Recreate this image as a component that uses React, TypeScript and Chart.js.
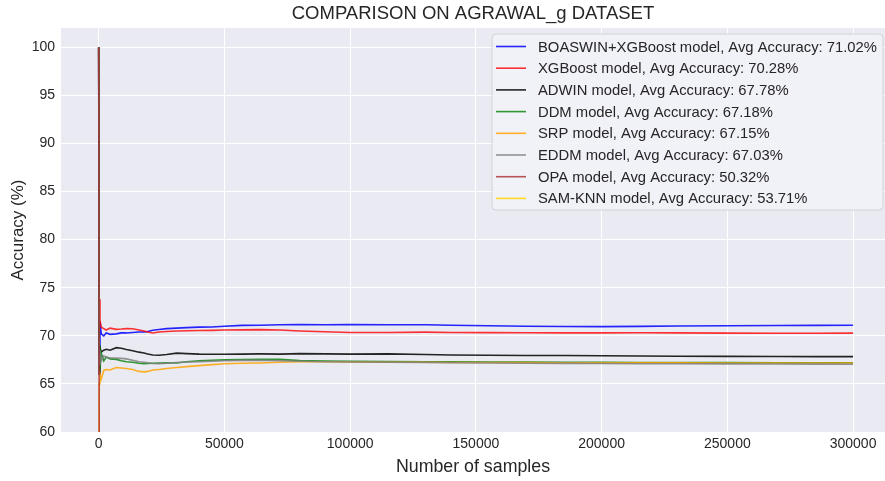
import React, { useEffect, useRef } from 'react';
import { Chart, registerables } from 'chart.js';

Chart.register(...registerables);

// ---- data ----
const samples = [0, 200, 500, 1000, 2000, 3000, 4500, 7000, 9000, 11000, 13500, 16000, 18000, 19500, 21500, 24000, 27000, 31000, 35000, 40000, 45000, 50000, 57000, 64000, 72000, 80000, 90000, 100000, 115000, 130000, 140000, 155000, 170000, 185000, 200000, 215000, 230000, 250000, 270000, 285000, 299999];

const boaswinXgb = [100, 68, 71.5, 70.2, 70.0, 70.3, 70.15, 70.2, 70.3, 70.3, 70.35, 70.4, 70.4, 70.45, 70.57, 70.65, 70.75, 70.8, 70.85, 70.9, 70.92, 71.0, 71.08, 71.1, 71.15, 71.18, 71.15, 71.16, 71.15, 71.15, 71.1, 71.05, 71.0, 70.97, 70.95, 70.98, 71.02, 71.05, 71.07, 71.08, 71.1];
const xgboost = [100, 73.8, 71.6, 70.9, 70.75, 70.6, 70.8, 70.67, 70.7, 70.75, 70.74, 70.6, 70.5, 70.4, 70.3, 70.4, 70.45, 70.5, 70.52, 70.55, 70.57, 70.6, 70.62, 70.64, 70.6, 70.5, 70.42, 70.35, 70.35, 70.38, 70.35, 70.33, 70.32, 70.3, 70.3, 70.32, 70.3, 70.28, 70.27, 70.27, 70.28];
const adwin = [100, 66, 68.8, 68.3, 68.5, 68.6, 68.5, 68.77, 68.7, 68.57, 68.45, 68.3, 68.22, 68.1, 68.0, 67.98, 68.05, 68.2, 68.15, 68.1, 68.08, 68.08, 68.1, 68.12, 68.1, 68.15, 68.12, 68.1, 68.12, 68.05, 68.0, 67.98, 67.95, 67.95, 67.92, 67.9, 67.88, 67.86, 67.85, 67.84, 67.84];
const ddm = [100, 69, 66.5, 68.2, 67.4, 67.8, 67.6, 67.55, 67.4, 67.3, 67.25, 67.15, 67.1, 67.12, 67.15, 67.18, 67.2, 67.18, 67.3, 67.4, 67.46, 67.5, 67.53, 67.55, 67.55, 67.42, 67.38, 67.35, 67.32, 67.3, 67.3, 67.28, 67.27, 67.25, 67.24, 67.23, 67.22, 67.21, 67.2, 67.2, 67.2];
const srp = [0, 65.0, 66.0, 65.5, 66.4, 66.5, 66.45, 66.7, 66.65, 66.6, 66.5, 66.3, 66.25, 66.3, 66.45, 66.5, 66.6, 66.7, 66.8, 66.9, 67.0, 67.1, 67.15, 67.18, 67.25, 67.3, 67.3, 67.28, 67.25, 67.25, 67.23, 67.22, 67.21, 67.2, 67.2, 67.2, 67.19, 67.18, 67.18, 67.17, 67.17];
const eddm = [100, 67, 68.5, 67.4, 67.9, 67.8, 67.7, 67.7, 67.65, 67.6, 67.45, 67.3, 67.25, 67.2, 67.12, 67.1, 67.15, 67.22, 67.28, 67.3, 67.35, 67.4, 67.45, 67.46, 67.4, 67.35, 67.3, 67.28, 67.25, 67.22, 67.2, 67.18, 67.15, 67.13, 67.12, 67.1, 67.1, 67.08, 67.07, 67.06, 67.05];
const opa = [100, 52, 50.5, 50.2, 50.4, 50.3, 50.35, 50.3, 50.32, 50.3, 50.33, 50.31, 50.3, 50.32, 50.33, 50.31, 50.32, 50.3, 50.32, 50.33, 50.32, 50.31, 50.32, 50.32, 50.33, 50.32, 50.31, 50.32, 50.32, 50.33, 50.32, 50.32, 50.31, 50.32, 50.32, 50.32, 50.33, 50.32, 50.32, 50.32, 50.32];
const samKnn = [0, 48, 52, 53, 53.5, 53.6, 53.65, 53.7, 53.68, 53.7, 53.72, 53.7, 53.71, 53.7, 53.72, 53.71, 53.7, 53.71, 53.72, 53.71, 53.7, 53.71, 53.71, 53.72, 53.71, 53.7, 53.71, 53.71, 53.72, 53.71, 53.71, 53.7, 53.71, 53.71, 53.72, 53.71, 53.71, 53.7, 53.71, 53.71, 53.71];

const seriesLabels = [
  'BOASWIN+XGBoost model, Avg Accuracy: 71.02%',
  'XGBoost model, Avg Accuracy: 70.28%',
  'ADWIN model, Avg Accuracy: 67.78%',
  'DDM model, Avg Accuracy: 67.18%',
  'SRP model, Avg Accuracy: 67.15%',
  'EDDM model, Avg Accuracy: 67.03%',
  'OPA model, Avg Accuracy: 50.32%',
  'SAM-KNN model, Avg Accuracy: 53.71%',
];
const seriesValues = [boaswinXgb, xgboost, adwin, ddm, srp, eddm, opa, samKnn];
const seriesColors = [
  'rgba(0,0,255,0.85)',
  'rgba(255,0,0,0.8)',
  'rgba(0,0,0,0.85)',
  'rgba(0,128,0,0.8)',
  'rgba(255,165,0,0.85)',
  'rgba(128,128,128,0.85)',
  'rgba(165,42,42,0.8)',
  'rgba(255,215,0,0.85)',
];

const xTickValues = [0, 50000, 100000, 150000, 200000, 250000, 300000];
const yTickValues = [60, 65, 70, 75, 80, 85, 90, 95, 100];

const FONT = "'Liberation Sans', Arial, sans-serif";
const TEXT = '#262626';

const bgPlugin = {
  id: 'axesBg',
  beforeDraw(chart: any) {
    const { ctx, chartArea } = chart;
    ctx.save();
    ctx.fillStyle = '#EAEAF2';
    ctx.fillRect(chartArea.left, chartArea.top, chartArea.right - chartArea.left, chartArea.bottom - chartArea.top);
    ctx.restore();
  },
};

const legendPlugin = {
  id: 'mplLegend',
  afterDatasetsDraw(chart: any) {
    const { ctx, chartArea } = chart;
    const w = 391;
    const h = 176;
    const x0 = chartArea.right - w - 2;
    const y0 = chartArea.top + 6;
    ctx.save();
    ctx.beginPath();
    const r = 4;
    ctx.moveTo(x0 + r, y0);
    ctx.lineTo(x0 + w - r, y0);
    ctx.quadraticCurveTo(x0 + w, y0, x0 + w, y0 + r);
    ctx.lineTo(x0 + w, y0 + h - r);
    ctx.quadraticCurveTo(x0 + w, y0 + h, x0 + w - r, y0 + h);
    ctx.lineTo(x0 + r, y0 + h);
    ctx.quadraticCurveTo(x0, y0 + h, x0, y0 + h - r);
    ctx.lineTo(x0, y0 + r);
    ctx.quadraticCurveTo(x0, y0, x0 + r, y0);
    ctx.closePath();
    ctx.fillStyle = 'rgba(242,242,248,0.9)';
    ctx.fill();
    ctx.strokeStyle = '#D2D2DA';
    ctx.lineWidth = 1;
    ctx.stroke();
    ctx.font = `14.8px ${FONT}`;
    ctx.textBaseline = 'middle';
    ctx.textAlign = 'left';
    chart.data.datasets.forEach((ds: any, i: number) => {
      const cy = y0 + 12.5 + i * 21.7;
      ctx.strokeStyle = ds.borderColor;
      ctx.lineWidth = 1.6;
      ctx.beginPath();
      ctx.moveTo(x0 + 4, cy);
      ctx.lineTo(x0 + 34, cy);
      ctx.stroke();
      ctx.fillStyle = TEXT;
      ctx.fillText(ds.label, x0 + 46, cy + 1);
    });
    ctx.restore();
  },
};

export default function App() {
  const ref = useRef<HTMLCanvasElement>(null);
  useEffect(() => {
    document.body.style.margin = '0';
    const canvas = ref.current!;
    const n = seriesLabels.length;
    const chart = new Chart(canvas, {
      type: 'line',
      data: {
        datasets: seriesLabels.map((label, i) => ({
          label,
          data: samples.map((x, k) => ({ x, y: seriesValues[i][k] })),
          borderColor: seriesColors[i],
          backgroundColor: seriesColors[i],
          borderWidth: 1.6,
          pointRadius: 0,
          tension: 0,
          fill: false,
          order: n - i,
        })),
      },
      plugins: [bgPlugin, legendPlugin],
      options: {
        responsive: false,
        animation: false,
        events: [],
        layout: { padding: 0 },
        plugins: {
          legend: { display: false },
          tooltip: { enabled: false },
          title: {
            display: true,
            fullSize: false,
            text: 'COMPARISON ON AGRAWAL_g DATASET',
            color: TEXT,
            font: { family: FONT, size: 18.5, weight: 'normal' },
            padding: { top: 3, bottom: 2.8 },
          },
        },
        scales: {
          x: {
            type: 'linear',
            min: -15000,
            max: 312700,
            afterFit: (s: any) => { s.height = 49; },
            afterBuildTicks: (s: any) => { s.ticks = xTickValues.map((v) => ({ value: v })); },
            grid: { color: '#FFFFFF', lineWidth: 1, drawTicks: false },
            border: { display: false },
            ticks: {
              color: TEXT,
              font: { family: FONT, size: 14 },
              padding: 4,
              maxRotation: 0,
              autoSkip: false,
              callback: (v: any) => String(v),
            },
            title: {
              display: true,
              text: 'Number of samples',
              color: TEXT,
              font: { family: FONT, size: 17.8 },
              padding: { top: 0, bottom: 3 },
            },
          },
          y: {
            type: 'linear',
            min: 60,
            max: 102,
            afterFit: (s: any) => { s.width = 61; },
            afterBuildTicks: (s: any) => { s.ticks = yTickValues.map((v) => ({ value: v })); },
            grid: { color: '#FFFFFF', lineWidth: 1, drawTicks: false },
            border: { display: false },
            ticks: {
              color: TEXT,
              font: { family: FONT, size: 14 },
              padding: 6,
              autoSkip: false,
              callback: (v: any) => String(v),
            },
            title: {
              display: true,
              text: 'Accuracy (%)',
              color: TEXT,
              font: { family: FONT, size: 17 },
              padding: { top: 8, bottom: 0 },
            },
          },
        },
      },
    } as any);
    return () => chart.destroy();
  }, []);
  return (
    <div style={{ width: 885, height: 481 }}>
      <canvas ref={ref} width={885} height={481} style={{ display: 'block', width: 885, height: 481 }} />
    </div>
  );
}
